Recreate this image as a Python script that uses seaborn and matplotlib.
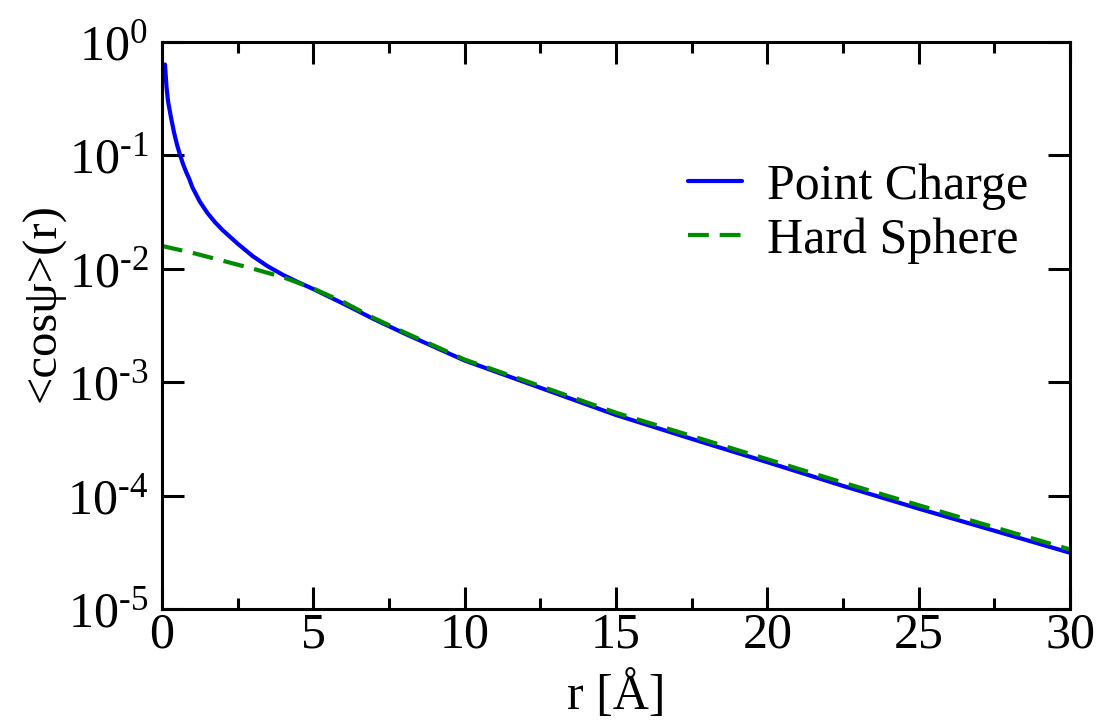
import numpy as np
import pandas as pd
import matplotlib
matplotlib.use("Agg")
import matplotlib.pyplot as plt
import matplotlib.ticker as mticker
import seaborn as sns

# <cos psi>(r) for the two solute models
r_point = [0.1, 0.15, 0.2, 0.3, 0.4, 0.5, 0.6, 0.7, 0.8, 0.9, 1.0, 1.25, 1.5,
           1.75, 2.0, 2.5, 3.0, 3.5, 4.0, 4.5, 5.0, 6.0, 7.0, 8.0, 9.0, 10.0,
           12.5, 15.0, 17.5, 20.0, 22.5, 25.0, 27.5, 30.0]
cos_point = [0.63, 0.40, 0.30, 0.214, 0.158, 0.123, 0.100, 0.083, 0.071, 0.062,
             0.0525, 0.039, 0.031, 0.0257, 0.0219, 0.0166, 0.01288, 0.01047,
             0.00881, 0.00759, 0.00661, 0.00490, 0.00359, 0.00269, 0.00204,
             0.00155, 0.000891, 0.000513, 0.000316, 0.000197, 0.0001216,
             7.67e-5, 4.90e-5, 3.13e-5]

r_hard = [0.0, 1.0, 2.0, 3.0, 4.0, 5.0, 6.0, 7.0, 8.0, 9.0, 10.0, 12.5, 15.0,
          17.5, 20.0, 22.5, 25.0, 27.5, 30.0]
cos_hard = [0.01585, 0.01380, 0.01175, 0.01000, 0.00841, 0.00668, 0.00507,
            0.00367, 0.00275, 0.00209, 0.00158, 0.000923, 0.000537, 0.000335,
            0.000209, 0.000130, 8.22e-5, 5.25e-5, 3.35e-5]

series_names = ["Point Charge", "Hard Sphere"]
x_ticks = [0, 5, 10, 15, 20, 25, 30]
y_ticks = [1e0, 1e-1, 1e-2, 1e-3, 1e-4, 1e-5]
y_tick_labels = [r"$10^{0}$", r"$10^{\text{-}1}$", r"$10^{\text{-}2}$",
                 r"$10^{\text{-}3}$", r"$10^{\text{-}4}$", r"$10^{\text{-}5}$"]

df = pd.concat([
    pd.DataFrame({"r": r_point, "cos": cos_point, "model": series_names[0]}),
    pd.DataFrame({"r": r_hard, "cos": cos_hard, "model": series_names[1]}),
])

sns.set_style("ticks")
plt.rcParams["font.family"] = ["Liberation Serif", "DejaVu Serif"]
plt.rcParams["mathtext.fontset"] = "custom"
plt.rcParams["mathtext.rm"] = "Liberation Serif"
plt.rcParams["mathtext.it"] = "Liberation Serif:italic"
plt.rcParams["mathtext.bf"] = "Liberation Serif:bold"
plt.rcParams["text.color"] = "black"
plt.rcParams["axes.labelcolor"] = "black"
plt.rcParams["xtick.color"] = "black"
plt.rcParams["ytick.color"] = "black"

fig = plt.figure(figsize=(10.98, 7.22), dpi=100)
ax = fig.add_axes([0.1475, 0.1565, 0.8270, 0.7857])

sns.lineplot(data=df, x="r", y="cos", hue="model", style="model",
             palette={"Point Charge": "#0000ff", "Hard Sphere": "#008c00"},
             dashes={"Point Charge": "", "Hard Sphere": (5, 2.6)},
             linewidth=3.0, estimator=None, sort=False, ax=ax)

ax.set_yscale("log")
ax.set_xlim(0, 30)
ax.set_ylim(1e-5, 1e0)
ax.set_xticks(x_ticks)
ax.set_xticklabels([str(t) for t in x_ticks])
ax.xaxis.set_minor_locator(mticker.MultipleLocator(2.5))
ax.set_yticks(y_ticks)
ax.set_yticklabels(y_tick_labels)
ax.yaxis.set_minor_locator(mticker.NullLocator())

for s in ax.spines.values():
    s.set_linewidth(2.2)
    s.set_color("black")

ax.tick_params(axis="both", which="major", direction="in", length=16, width=2.2,
               top=True, right=True, labelsize=36, color="black",
               labelcolor="black")
ax.tick_params(axis="x", which="minor", direction="in", length=8, width=2.2,
               top=True, bottom=True)
ax.tick_params(axis="x", which="major", pad=2)
ax.tick_params(axis="y", which="major", pad=10)

ax.set_xlabel("r [Å]", fontsize=36, va="bottom")
ax.xaxis.set_label_coords(0.5, -0.196)
ax.set_ylabel("<cosψ>(r)", fontsize=35)
ax.yaxis.set_label_coords(-0.106, 0.54)

leg = ax.legend(loc="upper left", bbox_to_anchor=(0.579, 0.786), frameon=False,
                fontsize=36, handlelength=1.08, handletextpad=0.5,
                labelspacing=0.15, borderpad=0.0, borderaxespad=0.0)
for line in leg.get_lines():
    line.set_linewidth(3.0)

fig.savefig("out.png", dpi=100)
